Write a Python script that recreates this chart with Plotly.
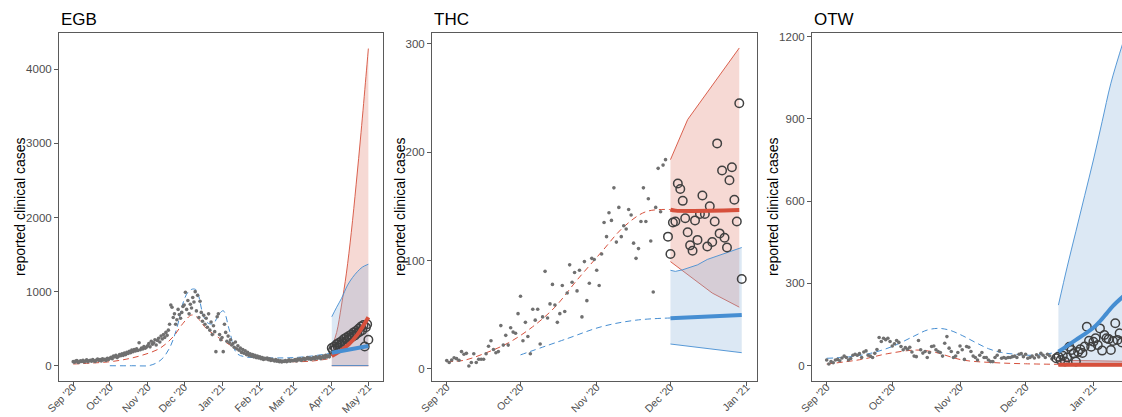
import plotly.graph_objects as go
import pandas as pd

# ---------------- EGB ----------------
egb_dot_start = "2020-09-01"
egb_dots = [
    55, 48, 62, 70, 45, 52, 66, 58, 72, 50, 63, 80, 55, 68, 74, 60, 85, 66, 58, 77, 90, 70, 82, 64, 95, 78, 88, 72, 100, 84,
    100, 115, 95, 130, 120, 140, 110, 125, 150, 135, 160, 140, 170, 150, 180, 165, 195, 175, 210, 190, 220,
    200, 230, 205, 310, 215, 240, 225, 260, 235, 250,
    270, 300, 255, 330, 290, 310, 350, 280, 340, 370, 320, 400, 360, 420, 380, 450, 410, 480, 560, 820, 790,
    650, 700, 560, 620, 760, 690, 640, 720, 800,
    820, 990, 760, 880, 700, 830, 780, 920, 860, 1000, 740, 950, 650, 870, 720, 600, 680, 560, 640, 520, 700,
    480, 590, 420, 540, 460, 190, 660, 700, 420, 350,
    380, 190, 560, 450, 330, 400, 310, 350, 280, 300, 250, 320, 230, 270, 210, 240, 180, 220, 170, 200, 150,
    180, 140, 160, 130, 150, 120, 140, 110, 130, 105,
    120, 95, 110, 85, 100, 90, 105, 80, 95, 70, 88, 75, 65, 82, 60, 72, 55, 68, 50, 62, 58, 70, 55, 65, 80, 60, 75, 68,
    72, 85, 65, 90, 78, 95, 70, 88, 100, 82, 95, 110, 90, 105, 85, 98, 112, 92, 120, 100, 108,
    125, 95, 115, 130, 105, 140, 118, 135, 120, 150,
]
egb_circ_start = "2021-04-01"
egb_circles = [240, 210, 260, 230, 290, 250, 310, 280, 330, 300, 360, 320, 380, 350, 400, 370, 420, 390, 450, 410,
               470, 440, 500, 460, 530, 480, 550, 260, 520, 560, 350]
egb_red_fit_dates = ["2020-09-01", "2020-09-15", "2020-10-01", "2020-10-15", "2020-10-28", "2020-11-11", "2020-11-22",
                     "2020-11-30", "2020-12-07", "2020-12-11", "2020-12-19", "2020-12-30", "2021-01-10", "2021-01-20",
                     "2021-02-01", "2021-02-15", "2021-03-01", "2021-03-15", "2021-04-01"]
egb_red_fit = [23, 35, 54, 90, 144, 235, 392, 572, 684, 661, 505, 370, 256, 160, 100, 65, 54, 62, 100]
egb_blue_fit_dates = ["2020-10-01", "2020-10-20", "2020-11-03", "2020-11-12", "2020-11-19", "2020-11-25", "2020-11-30",
                      "2020-12-04", "2020-12-08", "2020-12-11", "2020-12-17", "2020-12-21", "2020-12-25", "2020-12-29",
                      "2021-01-02", "2021-01-07", "2021-01-13", "2021-01-20", "2021-02-01", "2021-02-15",
                      "2021-03-01", "2021-03-15", "2021-04-01"]
egb_blue_fit = [0, 0, 5, 80, 240, 510, 845, 990, 1035, 1020, 661, 570, 570, 680, 742, 481, 170, 120, 110, 105,
                110, 130, 170]
egb_red_hi_dates = ["2021-04-01", "2021-04-05", "2021-04-09", "2021-04-13", "2021-04-17", "2021-04-21", "2021-04-25",
                    "2021-04-29", "2021-05-01"]
egb_red_hi = [250, 450, 820, 1250, 1800, 2450, 3150, 3900, 4280]
egb_red_lo_dates = ["2021-04-01", "2021-05-01"]
egb_red_lo = [0, 0]
egb_red_med_dates = ["2021-04-01", "2021-04-08", "2021-04-15", "2021-04-22", "2021-05-01"]
egb_red_med = [130, 200, 290, 420, 655]
egb_blue_hi_dates = ["2021-04-01", "2021-04-05", "2021-04-09", "2021-04-14", "2021-04-18", "2021-04-22", "2021-04-26",
                     "2021-05-01"]
egb_blue_hi = [661, 790, 909, 1089, 1190, 1269, 1330, 1370]
egb_blue_lo_dates = ["2021-04-01", "2021-05-01"]
egb_blue_lo = [2, 2]
egb_blue_med_dates = ["2021-04-01", "2021-05-01"]
egb_blue_med = [176, 266]

# ---------------- THC ----------------
thc_dot_start = "2020-09-01"
thc_dots = [
    7.7, 6, 8.3, 10.4, 9.5, 8, 16, 13.5, 14.4, 2.8, 6, 14, 6, 9, 9, 9, 14, 21, 26, 18, 15, 16, 40, 22, 31, 22, 38,
    34, 33, 51, 67, 26, 43, 30, 14, 55, 45, 55, 23, 48, 90, 47, 60, 78, 59, 43, 51, 77, 53, 70, 96, 80, 89, 72,
    91, 48, 99, 63, 79, 102, 101, 91, 77, 106, 135, 122, 144, 137, 167, 117, 149, 122, 132, 129, 147, 142, 116,
    102, 111, 136, 167, 136, 157, 118, 71, 149, 185, 145, 188, 193,
]
thc_circ_start = "2020-11-30"
thc_circles = [122, 106, 135, 136, 171, 166, 155, 139, 126, 114, 109, 137, 119, 143, 160, 143, 113, 150, 117,
               136, 208, 125, 183, 121, 112, 174, 186, 156, 136, 245, 83]
thc_red_fit_dates = ["2020-09-01", "2020-09-08", "2020-09-16", "2020-09-26", "2020-10-06", "2020-10-15",
                     "2020-10-24", "2020-11-03", "2020-11-12", "2020-11-21", "2020-12-01"]
thc_red_fit = [6.8, 8, 14, 24, 39, 57, 82, 108, 131, 145, 147]
thc_blue_fit_dates = ["2020-10-01", "2020-10-20", "2020-11-03", "2020-11-17", "2020-12-01"]
thc_blue_fit = [13, 28, 39, 45, 47]
thc_red_hi_dates = ["2020-12-01", "2020-12-08", "2020-12-29"]
thc_red_hi = [193, 230, 296]
thc_red_lo_dates = ["2020-12-01", "2020-12-11", "2020-12-18", "2020-12-29"]
thc_red_lo = [99, 82, 70, 57]
thc_red_med_dates = ["2020-12-01", "2020-12-03", "2020-12-29"]
thc_red_med = [147, 146, 146.5]
thc_blue_hi_dates = ["2020-12-01", "2020-12-03", "2020-12-06", "2020-12-09", "2020-12-12", "2020-12-16", "2020-12-30"]
thc_blue_hi = [91, 90, 91.5, 94, 96, 101, 112]
thc_blue_lo_dates = ["2020-12-01", "2020-12-30"]
thc_blue_lo = [23, 15]
thc_blue_med_dates = ["2020-12-01", "2020-12-30"]
thc_blue_med = [46.7, 49.8]

# ---------------- OTW ----------------
otw_dot_start = "2020-09-01"
otw_dots = [
    21, 6, 15, 11, 21, 23, 18, 28, 35, 30, 21, 26, 38, 42, 38, 44, 30, 50, 54, 38, 35, 30, 45, 59, 103, 88, 100, 95, 100, 88,
    72, 80, 92, 85, 70, 58, 66, 60, 67, 50, 35, 33, 92, 58, 46, 52, 30, 48, 70, 72, 58, 52, 48, 35, 82, 106, 64,
    52, 30, 35, 48,
    72, 58, 23, 70, 67, 52, 35, 30, 21, 38, 48, 30, 30, 21, 15, 15, 30, 38, 54, 27, 30, 27, 30, 30, 33, 35, 30,
    42, 44, 33,
    42, 27, 30, 35, 28, 40, 32, 45, 38, 30, 42, 36, 25, 30,
]
otw_circ_start = "2020-12-15"
otw_circles = [27, 33, 21, 36, 15, 30, 69, 57, 45, 15, 50, 60, 46, 70, 142, 91, 69, 87, 100, 75, 136, 55, 112, 100,
               97, 57, 90, 155, 94, 118, 85]
otw_red_fit_dates = ["2020-09-01", "2020-09-17", "2020-09-29", "2020-10-12", "2020-10-20", "2020-11-02",
                     "2020-11-17", "2020-12-01", "2020-12-16"]
otw_red_fit = [6, 23, 44, 57, 50, 21, 11, 7, 5]
otw_blue_fit_dates = ["2020-09-01", "2020-09-11", "2020-09-21", "2020-10-01", "2020-10-11", "2020-10-17",
                      "2020-10-22", "2020-10-27", "2020-11-02", "2020-11-08", "2020-11-14", "2020-11-20",
                      "2020-11-26", "2020-12-02", "2020-12-08", "2020-12-16"]
otw_blue_fit = [27, 32, 45, 70, 108, 130, 136, 130, 110, 85, 62, 48, 42, 38, 40, 50]
otw_red_hi_dates = ["2020-12-16", "2021-01-15"]
otw_red_hi = [20, 16]
otw_red_lo_dates = ["2020-12-16", "2021-01-15"]
otw_red_lo = [0, 0]
otw_red_med_dates = ["2020-12-16", "2021-01-15"]
otw_red_med = [3, 3]
otw_blue_hi_dates = ["2020-12-16", "2020-12-20", "2020-12-24", "2020-12-28", "2021-01-01", "2021-01-05",
                     "2021-01-09", "2021-01-15"]
otw_blue_hi = [221, 360, 490, 620, 750, 890, 1030, 1190]
otw_blue_lo_dates = ["2020-12-16", "2021-01-15"]
otw_blue_lo = [2, 2]
otw_blue_med_dates = ["2020-12-16", "2020-12-20", "2020-12-24", "2020-12-28", "2021-01-01", "2021-01-04",
                      "2021-01-07", "2021-01-10", "2021-01-15"]
otw_blue_med = [51, 72, 94, 115, 138, 162, 190, 218, 255]

panels = [
    dict(name="EGB", dot_start=egb_dot_start, dots=egb_dots, circ_start=egb_circ_start, circles=egb_circles,
         red_fit=(egb_red_fit_dates, egb_red_fit), blue_fit=(egb_blue_fit_dates, egb_blue_fit),
         red_lo=(egb_red_lo_dates, egb_red_lo), red_hi=(egb_red_hi_dates, egb_red_hi),
         red_med=(egb_red_med_dates, egb_red_med),
         blue_lo=(egb_blue_lo_dates, egb_blue_lo), blue_hi=(egb_blue_hi_dates, egb_blue_hi),
         blue_med=(egb_blue_med_dates, egb_blue_med), rib_shape="spline",
         xdom=(59, 383), xrange=("2020-08-20 08:00", "2021-05-13"),
         months=["2020-09-01", "2020-10-01", "2020-11-01", "2020-12-01", "2021-01-01", "2021-02-01", "2021-03-01",
                 "2021-04-01", "2021-05-01"],
         yrange=(-206, 4490), yticks=[0, 1000, 2000, 3000, 4000], title_x=59, ylab_x=20),
    dict(name="THC", dot_start=thc_dot_start, dots=thc_dots, circ_start=thc_circ_start, circles=thc_circles,
         red_fit=(thc_red_fit_dates, thc_red_fit), blue_fit=(thc_blue_fit_dates, thc_blue_fit),
         red_lo=(thc_red_lo_dates, thc_red_lo), red_hi=(thc_red_hi_dates, thc_red_hi),
         red_med=(thc_red_med_dates, thc_red_med),
         blue_lo=(thc_blue_lo_dates, thc_blue_lo), blue_hi=(thc_blue_hi_dates, thc_blue_hi),
         blue_med=(thc_blue_med_dates, thc_blue_med), rib_shape="linear",
         xdom=(432, 757), xrange=("2020-08-26", "2021-01-05 05:00"),
         months=["2020-09-01", "2020-10-01", "2020-11-01", "2020-12-01", "2021-01-01"],
         yrange=(-11.1, 309.8), yticks=[0, 100, 200, 300], title_x=432, ylab_x=400),
    dict(name="OTW", dot_start=otw_dot_start, dots=otw_dots, circ_start=otw_circ_start, circles=otw_circles,
         red_fit=(otw_red_fit_dates, otw_red_fit), blue_fit=(otw_blue_fit_dates, otw_blue_fit),
         red_lo=(otw_red_lo_dates, otw_red_lo), red_hi=(otw_red_hi_dates, otw_red_hi),
         red_med=(otw_red_med_dates, otw_red_med),
         blue_lo=(otw_blue_lo_dates, otw_blue_lo), blue_hi=(otw_blue_hi_dates, otw_blue_hi),
         blue_med=(otw_blue_med_dates, otw_blue_med), rib_shape="spline",
         xdom=(812, 1122), xrange=("2020-08-25 07:00", "2021-01-14 02:00"),
         months=["2020-09-01", "2020-10-01", "2020-11-01", "2020-12-01", "2021-01-01"],
         yrange=(-55.8, 1213), yticks=[0, 300, 600, 900, 1200], title_x=812, ylab_x=773),
]

W, H = 1122, 417
TOP, BOT = 33, 381
RED = "rgb(214,80,60)"
BLUE = "rgb(70,142,210)"
RED_FILL = "rgba(225,128,112,0.3)"
BLUE_FILL = "rgba(138,178,218,0.3)"
DOT = "rgb(112,112,112)"
CIRC = "rgb(64,64,64)"
AX = "#5a5a5a"
FONT = "Liberation Sans, Arial, sans-serif"

fig = go.Figure()

for i, p in enumerate(panels, start=1):
    xa = "x" if i == 1 else f"x{i}"
    ya = "y" if i == 1 else f"y{i}"
    common = dict(xaxis=xa, yaxis=ya, showlegend=False, hoverinfo="skip")
    rs = p["rib_shape"]

    # red ribbon
    fig.add_trace(go.Scatter(x=p["red_lo"][0], y=p["red_lo"][1], mode="lines",
                             line=dict(color=RED, width=0.9, shape=rs), **common))
    fig.add_trace(go.Scatter(x=p["red_hi"][0], y=p["red_hi"][1], mode="lines", fill="tonexty",
                             fillcolor=RED_FILL, line=dict(color=RED, width=0.9, shape=rs), **common))
    # blue ribbon
    fig.add_trace(go.Scatter(x=p["blue_lo"][0], y=p["blue_lo"][1], mode="lines",
                             line=dict(color=BLUE, width=0.9, shape=rs), **common))
    fig.add_trace(go.Scatter(x=p["blue_hi"][0], y=p["blue_hi"][1], mode="lines", fill="tonexty",
                             fillcolor=BLUE_FILL, line=dict(color=BLUE, width=0.9, shape=rs), **common))
    # fitted dashed curves
    fig.add_trace(go.Scatter(x=p["blue_fit"][0], y=p["blue_fit"][1], mode="lines",
                             line=dict(color=BLUE, width=1, dash="6px,4px", shape="spline"), **common))
    fig.add_trace(go.Scatter(x=p["red_fit"][0], y=p["red_fit"][1], mode="lines",
                             line=dict(color=RED, width=1, dash="6px,4px", shape="spline"), **common))
    # observed training data
    fig.add_trace(go.Scatter(x=pd.date_range(p["dot_start"], periods=len(p["dots"]), freq="D"), y=p["dots"],
                             mode="markers", marker=dict(color=DOT, size=3.6, symbol="circle"), **common))
    # observed test data
    fig.add_trace(go.Scatter(x=pd.date_range(p["circ_start"], periods=len(p["circles"]), freq="D"),
                             y=p["circles"], mode="markers",
                             marker=dict(color=CIRC, size=8.5, symbol="circle-open",
                                         line=dict(color=CIRC, width=1.5)), **common))
    # medians
    fig.add_trace(go.Scatter(x=p["red_med"][0], y=p["red_med"][1], mode="lines",
                             line=dict(color=RED, width=4, shape="spline"), **common))
    fig.add_trace(go.Scatter(x=p["blue_med"][0], y=p["blue_med"][1], mode="lines",
                             line=dict(color=BLUE, width=4, shape="spline"), **common))

    xk = "xaxis" if i == 1 else f"xaxis{i}"
    yk = "yaxis" if i == 1 else f"yaxis{i}"
    x0, x1 = p["xdom"]
    fig.update_layout(**{
        xk: dict(domain=[x0 / W, min(x1 / W, 1.0)], anchor=ya, type="date", range=list(p["xrange"]),
                 tickvals=p["months"], tickformat="%b '%y", tickangle=-45, automargin=False,
                 ticklabelstandoff=-9,
                 showline=True, linecolor=AX, linewidth=1, mirror=True,
                 ticks="outside", ticklen=4, tickcolor=AX, showgrid=False, zeroline=False,
                 tickfont=dict(size=10.5, color="#4d4d4d", family=FONT)),
        yk: dict(domain=[1 - BOT / H, 1 - TOP / H], anchor=xa, range=list(p["yrange"]), automargin=False,
                 tickvals=p["yticks"], showline=True, linecolor=AX, linewidth=1, mirror=(i != 3),
                 ticks="outside", ticklen=4, tickcolor=AX, showgrid=False, zeroline=False,
                 tickfont=dict(size=11.5, color="#4d4d4d", family=FONT)),
    })
    fig.add_annotation(text=p["name"], xref="paper", yref="paper", x=p["title_x"] / W, y=1 - 19 / H,
                       xanchor="left", yanchor="middle", showarrow=False,
                       font=dict(size=17, color="black", family=FONT))
    fig.add_annotation(text="reported clinical cases", xref="paper", yref="paper", x=p["ylab_x"] / W,
                       y=1 - 207 / H, xanchor="center", yanchor="middle", textangle=-90, showarrow=False,
                       font=dict(size=14, color="black", family=FONT))

fig.update_layout(width=W, height=H, margin=dict(l=0, r=0, t=0, b=0), paper_bgcolor="white",
                  plot_bgcolor="white", font=dict(family=FONT))
fig.write_html("out.html", config={"displayModeBar": False})
